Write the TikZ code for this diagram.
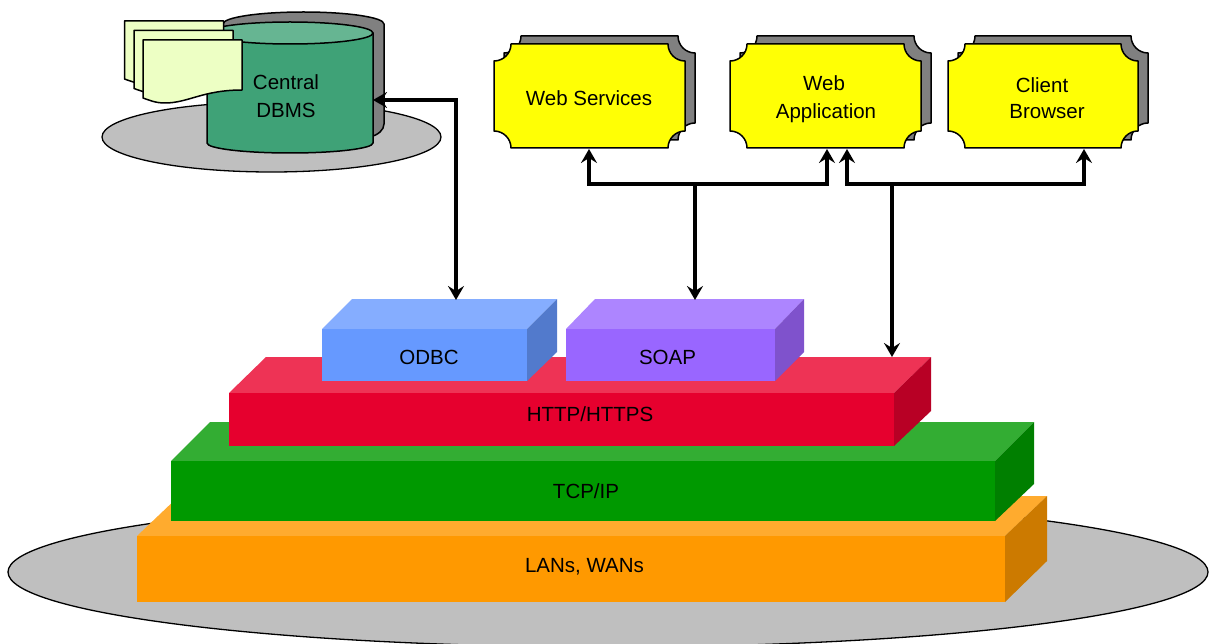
\documentclass[tikz,border=0pt]{standalone}
\usepackage{fontspec}
\setmainfont{Liberation Sans}
\usetikzlibrary{arrows.meta,shapes.geometric}
\definecolor{disc}{HTML}{BFBFBF}
\definecolor{shadowgray}{HTML}{808080}
\definecolor{cylbody}{HTML}{3FA277}
\definecolor{cyltop}{HTML}{66B592}
\definecolor{paper}{HTML}{EDFFC4}
\definecolor{plaque}{rgb}{1,1,0.02}
\definecolor{orF}{HTML}{FF9900}\definecolor{orT}{HTML}{FFAB2E}\definecolor{orS}{HTML}{CC7A00}
\definecolor{grF}{HTML}{009900}\definecolor{grT}{HTML}{33AD33}\definecolor{grS}{HTML}{007F00}
\definecolor{reF}{HTML}{E6002E}\definecolor{reT}{HTML}{EE3355}\definecolor{reS}{HTML}{B80025}
\definecolor{blF}{HTML}{6699FF}\definecolor{blT}{HTML}{85ADFF}\definecolor{blS}{HTML}{527ACC}
\definecolor{puF}{HTML}{9966FF}\definecolor{puT}{HTML}{AD85FF}\definecolor{puS}{HTML}{7F52CC}
\tikzset{
  lbl/.style={font=\fontsize{20.5}{24}\selectfont,text=black,inner sep=0pt,anchor=base},
  link/.style={line width=3.4pt,black,line join=miter},
  tip/.style={-{Stealth[length=14pt,width=16pt,inset=5pt]}},
  twotip/.style={{Stealth[length=14pt,width=16pt,inset=5pt]}-{Stealth[length=14pt,width=16pt,inset=5pt]}},
  outline/.style={draw=black,line width=1.5pt,line join=round},
  anchorbox/.style={inner sep=0pt,outer sep=0pt,draw=none},
}
% plaque with concave corners: x y w h fill
\newcommand{\plaqueshape}[5]{%
  \path[outline,fill=#5] (#1+17,#2) -- ++({#3-34},0)
    .. controls +(0,9.4) and +(-9.4,0) .. ++(17,17) -- ++(0,{#4-34})
    .. controls +(-9.4,0) and +(0,-9.4) .. ++(-17,17) -- ++({-(#3-34)},0)
    .. controls +(0,-9.4) and +(9.4,0) .. ++(-17,-17) -- ++(0,{-(#4-34)})
    .. controls +(9.4,0) and +(0,9.4) .. ++(17,-17) -- cycle;}
% block: name x1 y1 x2 y2 dx dy colour sidedrop
\newcommand{\slab}[9]{%
  \fill[#8T] (#2,#3) -- (#2+#6,#3-#7) -- (#4+#6,#3-#7) -- (#4,#3) -- cycle;
  \fill[#8S] (#4,#3) -- (#4+#6,#3-#7) -- (#4+#6,#5-#9) -- (#4,#5) -- cycle;
  \node[anchorbox,fill=#8F,minimum width={#4-#2},minimum height={#5-#3},anchor=north west] (#1) at (#2,#3) {};}
\newcommand{\sheet}[2]{\path[outline,fill=paper] (#1,#2) -- (#1+99,#2) -- (#1+99,#2+50)
  .. controls (#1+60,#2+50) and (#1+45,#2+63) .. (#1+22,#2+63)
  .. controls (#1+12,#2+63) and (#1+6,#2+60) .. (#1,#2+58) -- cycle;}
\begin{document}
\begin{tikzpicture}[x=1pt,y=-1pt]
\useasboundingbox (0,0) rectangle (1214,644);
\begin{scope}
\clip (0,0) rectangle (1214,644);
% platters
\node[draw=black,line width=1.3pt,fill=disc,shape=ellipse,minimum width=1200pt,minimum height=150pt,inner sep=0pt] (base) at (608,572) {};
\end{scope}
\node[draw=black,line width=1.3pt,fill=disc,shape=ellipse,minimum width=339pt,minimum height=70pt,inner sep=0pt] (plate) at (271.5,137) {};

% layer stack
\slab{lan}{137}{536}{1005}{602}{42}{40}{or}{41}
\slab{tcp}{171}{461}{995}{521}{39}{39}{gr}{37}
\slab{http}{229}{393}{894}{446}{37}{36}{re}{35}
\slab{odbc}{322}{329}{527}{381}{30}{30}{bl}{29}
\slab{soap}{566}{329}{775}{381}{29}{30}{pu}{29}
\node[lbl] (lanT) at (584.5,572) {LANs, WANs};
\node[lbl] (tcpT) at (586,498) {TCP/IP};
\node[lbl] (httpT) at (590,421) {HTTP/HTTPS};
\node[lbl] (odbcT) at (429,364.5) {ODBC};
\node[lbl] (soapT) at (667.5,364.5) {SOAP};

% database
\path[outline,fill=shadowgray] (223,24) arc[x radius=80.5,y radius=12,start angle=180,end angle=360]
  -- (384,124) .. controls (384,130) and (378,135) .. (370,137) -- (240,137) -- (223,137) -- cycle;
\path[outline,fill=cylbody] (207,33) -- (207,143) arc[x radius=83,y radius=10,start angle=180,end angle=0] -- (373,33) -- cycle;
\path[outline,fill=cyltop] (290,33) ellipse[x radius=83,y radius=11];
\node[anchorbox,minimum width=166pt,minimum height=120pt] (dbms) at (290,93) {};
\node[lbl] (dbmsA) at (286,90) {Central};
\node[lbl] (dbmsB) at (286,118) {DBMS};

% documents
\sheet{124.5}{21}
\sheet{134}{30.5}
\sheet{143}{40}

% application plaques
\plaqueshape{504}{36}{191}{104}{shadowgray}
\plaqueshape{494}{44}{191}{104}{plaque}
\plaqueshape{740}{36}{191}{104}{shadowgray}
\plaqueshape{730}{44}{191}{104}{plaque}
\plaqueshape{958}{36}{190}{104}{shadowgray}
\plaqueshape{948}{44}{190}{104}{plaque}
\node[anchorbox,minimum width=191pt,minimum height=104pt] (ws) at (589.5,96) {};
\node[anchorbox,minimum width=191pt,minimum height=104pt] (app) at (825.5,96) {};
\node[anchorbox,minimum width=190pt,minimum height=104pt] (cb) at (1043,96) {};
\node[lbl] (wsT) at (589,106) {Web Services};
\node[lbl] (appA) at (824,90.5) {Web};
\node[lbl] (appB) at (826,118.5) {Application};
\node[lbl] (cbA) at (1042,93) {Client};
\node[lbl] (cbB) at (1047,118.5) {Browser};

% connector anchor points
\coordinate (dbmsIn) at (373,100);
\coordinate (dbmsBend) at (456,100);
\coordinate (odbcIn) at (455,300);
\coordinate (wsIn) at (589,149);
\coordinate (wsBend) at (589,184);
\coordinate (appInA) at (827,149);
\coordinate (appBendA) at (827,184);
\coordinate (joinA) at (695,184);
\coordinate (soapIn) at (695,300);
\coordinate (appInB) at (847,149);
\coordinate (appBendB) at (847,184);
\coordinate (cbIn) at (1084,149);
\coordinate (cbBend) at (1084,184);
\coordinate (joinB) at (892,184);
\coordinate (httpIn) at (892,357);

\draw[link,twotip] (dbmsIn) -- (dbmsBend) -- (odbcIn -| dbmsBend);
\draw[link,twotip] (wsIn) -- (wsBend) -- (appBendA) -- (appInA);
\draw[link,tip] (joinA) -- (soapIn);
\draw[link,twotip] (appInB) -- (appBendB) -- (cbBend) -- (cbIn);
\draw[link,tip] (joinB) -- (httpIn);
\end{tikzpicture}
\end{document}
